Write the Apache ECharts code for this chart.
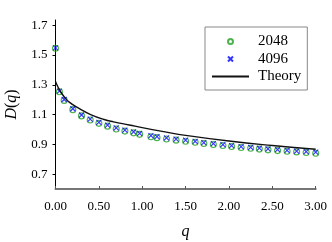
<!DOCTYPE html>
<html>
<head>
<meta charset="utf-8">
<script src="https://cdn.jsdelivr.net/npm/echarts@6/dist/echarts.min.js"></script>
<style>html,body{margin:0;padding:0;background:#fff;}#c{width:332px;height:242px;}</style>
</head>
<body>
<div id="c"></div>
<script>
const qValues = [0, 0.045, 0.1, 0.2, 0.3, 0.4, 0.5, 0.6, 0.7, 0.8, 0.9, 0.97, 1.1, 1.17, 1.28, 1.39, 1.5, 1.61, 1.71, 1.82, 1.93, 2.03, 2.14, 2.25, 2.35, 2.45, 2.56, 2.67, 2.78, 2.89, 3.0];
const d2048 = [1.545, 1.253, 1.195, 1.133, 1.091, 1.063, 1.041, 1.022, 1.003, 0.989, 0.977, 0.967, 0.951, 0.945, 0.936, 0.928, 0.921, 0.914, 0.906, 0.899, 0.892, 0.885, 0.879, 0.874, 0.868, 0.863, 0.858, 0.854, 0.849, 0.845, 0.840];
const d4096 = [1.548, 1.258, 1.201, 1.139, 1.097, 1.069, 1.047, 1.029, 1.010, 0.996, 0.983, 0.974, 0.958, 0.952, 0.943, 0.935, 0.928, 0.920, 0.912, 0.905, 0.898, 0.891, 0.885, 0.880, 0.874, 0.869, 0.864, 0.860, 0.855, 0.851, 0.847];
const theoryQ = [0, 0.03, 0.06, 0.1, 0.155, 0.27, 0.405, 0.56, 0.67, 0.85, 1.0, 1.25, 1.5, 2.0, 2.5, 3.0];
const theoryD = [1.322, 1.283, 1.252, 1.220, 1.185, 1.141, 1.100, 1.067, 1.051, 1.030, 1.012, 0.985, 0.960, 0.922, 0.892, 0.867];
const xTicks = [0, 0.5, 1, 1.5, 2, 2.5, 3];
const yTicks = [0.7, 0.9, 1.1, 1.3, 1.5, 1.7];
const seriesNames = ['2048', '4096', 'Theory'];

const font = 'Liberation Serif';
const pair = (xs, ys) => xs.map((x, i) => [x, ys[i]]);
const chart = echarts.init(document.getElementById('c'), null, {renderer: 'canvas'});
chart.setOption({
  animation: false,
  backgroundColor: '#fff',
  grid: {left: 55.5, right: 16.3, top: 20, bottom: 53, containLabel: false, outerBoundsMode: 'none'},
  legend: {
    orient: 'vertical',
    left: 205, top: 27,
    data: [
      {name: seriesNames[0]},
      {name: seriesNames[1]},
      {name: seriesNames[2], itemStyle: {opacity: 0}}
    ],
    itemWidth: 37, itemHeight: 5, itemGap: 2.5,
    padding: [7, 6, 6, 6],
    borderColor: '#888', borderWidth: 1, borderRadius: 0,
    textStyle: {fontFamily: font, fontSize: 15, color: '#000', lineHeight: 15, padding: [0, 0, 0, 4]}
  },
  xAxis: {
    type: 'value', min: 0, max: 3, interval: 0.5,
    name: 'q', nameLocation: 'middle', nameGap: 35,
    nameTextStyle: {fontFamily: font, fontSize: 16, fontStyle: 'italic', color: '#000'},
    axisLine: {show: true, lineStyle: {color: '#777', width: 2}},
    axisTick: {show: true, inside: true, length: 3, lineStyle: {color: '#555', width: 1}},
    axisLabel: {fontFamily: font, fontSize: 13, color: '#000', margin: 11,
      formatter: v => v.toFixed(2), customValues: xTicks},
    splitLine: {show: false}
  },
  yAxis: {
    type: 'value', min: 0.6, max: 1.735,
    name: '{i|D}({i|q})', nameLocation: 'middle', nameGap: 36, nameRotate: 90,
    nameTextStyle: {fontFamily: font, fontSize: 16, color: '#000',
      rich: {i: {fontFamily: font, fontSize: 16, fontStyle: 'italic', color: '#000'}}},
    axisLine: {show: true, lineStyle: {color: '#000', width: 1}},
    axisTick: {show: true, inside: false, length: 3, customValues: yTicks, lineStyle: {color: '#000', width: 1}},
    axisLabel: {fontFamily: font, fontSize: 13, color: '#000', margin: 8,
      formatter: v => v.toFixed(1), customValues: yTicks},
    splitLine: {show: false}
  },
  series: [
    {
      name: '2048', type: 'scatter', data: pair(qValues, d2048),
      symbol: 'circle', symbolSize: 6, z: 2,
      itemStyle: {color: 'rgba(0,0,0,0)', borderColor: '#22a022', borderWidth: 1.1}
    },
    {
      name: '4096', type: 'scatter', data: pair(qValues, d4096),
      symbol: 'path://M0,0L10,10M10,0L0,10', symbolSize: 5, z: 3,
      itemStyle: {color: 'rgba(0,0,0,0)', borderColor: '#0000ff', borderWidth: 1.1}
    },
    {
      name: 'Theory', type: 'line', data: pair(theoryQ, theoryD),
      smooth: true, showSymbol: false, symbol: 'none', z: 4,
      lineStyle: {color: '#111', width: 1.4}
    }
  ]
});
</script>
</body>
</html>
